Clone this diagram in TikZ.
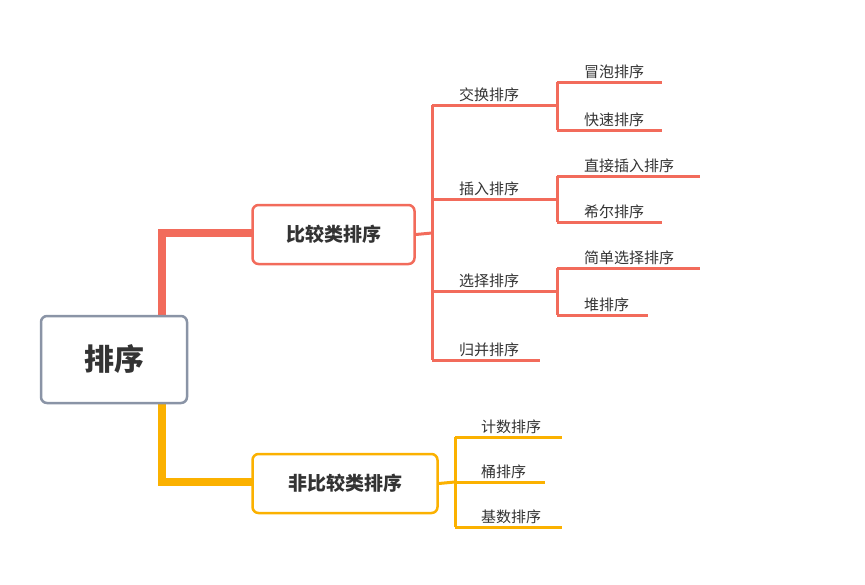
\documentclass[tikz,border=0pt]{standalone}
\usepackage{fontspec}
\setmainfont{Noto Sans CJK SC}
\usetikzlibrary{positioning}
\definecolor{rootgray}{HTML}{8A94A6}
\definecolor{cmpred}{HTML}{F26B5B}
\definecolor{ncmpyel}{HTML}{FBB100}
\definecolor{txt}{HTML}{333333}
\tikzset{
  rootbox/.style={draw=rootgray,line width=2.5pt,rounded corners=6pt,fill=white,
    minimum width=146pt,minimum height=87pt,font=\bfseries\fontsize{30}{30}\selectfont,text=txt},
  catbox/.style={line width=2.5pt,rounded corners=6pt,fill=white,
    minimum height=59pt,font=\bfseries\fontsize{19}{19}\selectfont,text=txt},
  leaf/.style={font=\fontsize{15}{15}\selectfont,text=txt,anchor=south west,inner sep=2pt},
  redline/.style={cmpred,line width=3pt},
  yelline/.style={ncmpyel,line width=3pt}
}
\begin{document}
\begin{tikzpicture}[x=1pt,y=-1pt]
\useasboundingbox (0,0) rectangle (865,584);

% trunk
\draw[cmpred,line width=8pt] (162,360) -- (162,233) -- (252,233);
\draw[ncmpyel,line width=8pt] (162,360) -- (162,482) -- (252,482);

\node[rootbox] (root) at (114,359.5) {排序};
\node[catbox,draw=cmpred,minimum width=162pt] (cmp) at (333.5,234.5) {比较类排序};
\node[catbox,draw=ncmpyel,minimum width=185pt] (ncmp) at (345,483.5) {非比较类排序};

% comparison sorts
\coordinate (cj) at (432,233);
\coordinate (c1) at (432,105);
\coordinate (c2) at (432,199);
\coordinate (c3) at (432,291);
\coordinate (c4) at (432,360);
\draw[redline] (cmp.east) -- (cj);
\draw[redline] (c1) -- (c4);
\draw[redline] (c1) -- (557,105);
\draw[redline] (c2) -- (557,199);
\draw[redline] (c3) -- (557,291);
\draw[redline] (c4) -- (540,360);
\node[leaf] (swap) at (457,104) {交换排序};
\node[leaf] (ins) at (457,198) {插入排序};
\node[leaf] (sel) at (457,290) {选择排序};
\node[leaf] (mrg) at (457,359) {归并排序};

\draw[redline] (557,82) -- (557,130);
\draw[redline] (557,82) -- (662,82);
\draw[redline] (557,130) -- (662,130);
\node[leaf] (bub) at (582,81) {冒泡排序};
\node[leaf] (qck) at (582,129) {快速排序};

\draw[redline] (557,176) -- (557,222);
\draw[redline] (557,176) -- (700,176);
\draw[redline] (557,222) -- (662,222);
\node[leaf] (dins) at (582,175) {直接插入排序};
\node[leaf] (shl) at (582,221) {希尔排序};

\draw[redline] (557,268) -- (557,315);
\draw[redline] (557,268) -- (700,268);
\draw[redline] (557,315) -- (648,315);
\node[leaf] (ssel) at (582,267) {简单选择排序};
\node[leaf] (hp) at (582,314) {堆排序};

% non-comparison sorts
\coordinate (nj) at (455,482);
\draw[yelline] (ncmp.east) -- (nj);
\draw[yelline] (455,437) -- (455,527);
\draw[yelline] (455,437) -- (562,437);
\draw[yelline] (455,482) -- (545,482);
\draw[yelline] (455,527) -- (562,527);
\node[leaf] (cnt) at (479,436) {计数排序};
\node[leaf] (bkt) at (479,481) {桶排序};
\node[leaf] (rdx) at (479,526) {基数排序};
\end{tikzpicture}
\end{document}
